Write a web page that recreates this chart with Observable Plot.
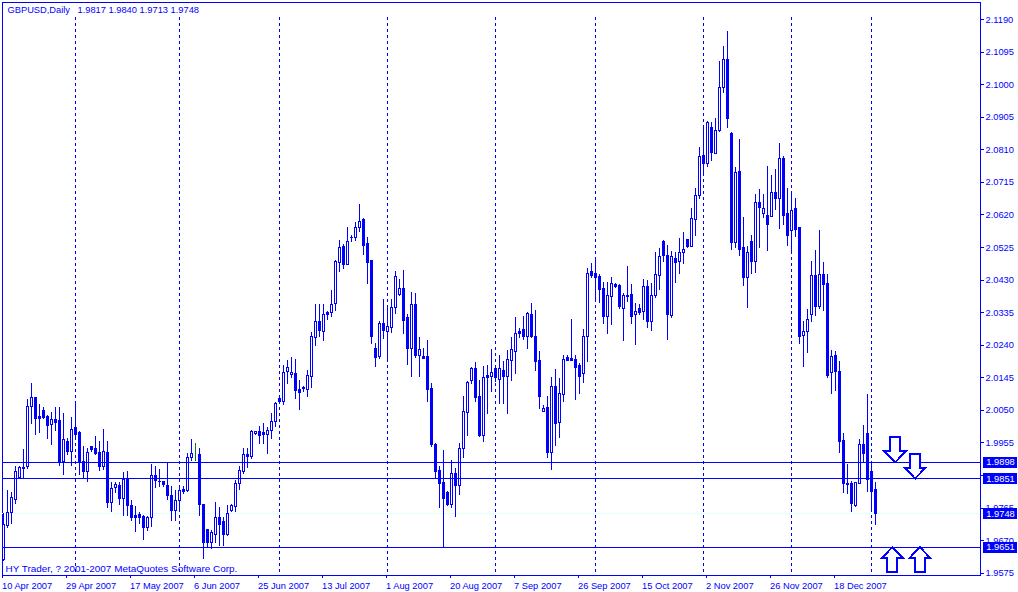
<!DOCTYPE html>
<html><head><meta charset="utf-8">
<style>html,body{margin:0;padding:0;background:#fff}svg{display:block}</style>
<script src="https://cdn.jsdelivr.net/npm/d3@7"></script>
<script src="https://cdn.jsdelivr.net/npm/@observablehq/plot@0.6"></script>
</head><body><script>
const opens=[1.9614,1.9712,1.9750,1.9789,1.9853,1.9882,1.9884,2.0061,2.0085,2.0032,
2.0047,2.0032,2.0006,2.0023,2.0018,1.9898,1.9959,1.9930,2.0000,1.9983,
1.9898,1.9870,1.9942,1.9936,1.9927,1.9886,1.9927,1.9781,1.9823,1.9828,
1.9790,1.9851,1.9772,1.9741,1.9746,1.9740,1.9708,1.9737,1.9860,1.9842,
1.9842,1.9828,1.9799,1.9755,1.9787,1.9819,1.9816,1.9910,1.9921,1.9921,
1.9775,1.9700,1.9662,1.9685,1.9737,1.9723,1.9685,1.9755,1.9767,1.9834,
1.9870,1.9921,1.9915,1.9980,1.9988,1.9983,1.9977,1.9989,2.0016,2.0082,
2.0075,2.0161,2.0153,2.0155,2.0108,2.0114,2.0109,2.0148,2.0262,2.0309,
2.0278,2.0333,2.0333,2.0360,2.0480,2.0528,2.0475,2.0554,2.0552,2.0581,
2.0604,2.0534,2.0487,2.0228,2.0207,2.0303,2.0280,2.0289,2.0348,2.0388,
2.0403,2.0318,2.0228,2.0356,2.0210,2.0207,2.0206,2.0111,1.9950,1.9872,
1.9837,1.9810,1.9773,1.9865,1.9828,1.9936,2.0041,2.0135,2.0172,2.0088,
1.9974,2.0149,2.0147,2.0172,2.0140,2.0166,2.0147,2.0194,2.0220,2.0280,
2.0283,2.0263,2.0327,2.0265,2.0193,2.0044,2.0058,1.9927,2.0117,2.0012,
2.0094,2.0204,2.0201,2.0198,2.0178,2.0155,2.0263,2.0455,2.0449,2.0438,
2.0403,2.0321,2.0380,2.0417,2.0414,2.0345,2.0385,2.0388,2.0327,2.0347,
2.0336,2.0411,2.0309,2.0384,2.0443,2.0540,2.0499,2.0324,2.0493,2.0484,
2.0508,2.0548,2.0528,2.0605,2.0674,2.0793,2.0770,2.0875,2.0799,2.0866,
2.0989,2.1073,2.0855,2.0537,2.0744,2.0525,2.0437,2.0540,2.0484,2.0656,
2.0624,2.0618,2.0615,2.0685,2.0668,2.0782,2.0624,2.0572,2.0636,2.0583,
2.0266,2.0278,2.0327,2.0441,2.0353,2.0446,2.0420,2.0160,2.0210,2.0163,
1.9962,1.9834,1.9834,1.9770,1.9836,1.9948,1.9980,1.9869,1.9817];
const closes=[1.9717,1.9752,1.9793,1.9871,1.9882,1.9878,2.0061,2.0085,2.0026,2.0026,
2.0029,2.0004,2.0023,2.0012,1.9897,1.9965,1.9930,1.9994,1.9977,1.9898,
1.9869,1.9927,1.9935,1.9924,1.9886,1.9930,1.9781,1.9822,1.9831,1.9790,
1.9848,1.9770,1.9737,1.9737,1.9737,1.9708,1.9737,1.9860,1.9843,1.9840,
1.9831,1.9799,1.9755,1.9787,1.9816,1.9813,1.9910,1.9924,1.9921,1.9775,
1.9662,1.9662,1.9691,1.9737,1.9717,1.9685,1.9749,1.9772,1.9834,1.9872,
1.9921,1.9915,1.9988,1.9987,1.9974,1.9977,1.9991,2.0015,2.0070,2.0074,
2.0160,2.0174,2.0160,2.0106,2.0100,2.0112,2.0149,2.0265,2.0309,2.0281,
2.0329,2.0327,2.0358,2.0484,2.0525,2.0473,2.0542,2.0552,2.0583,2.0600,
2.0529,2.0481,2.0263,2.0204,2.0303,2.0281,2.0292,2.0350,2.0440,2.0405,
2.0312,2.0228,2.0356,2.0210,2.0225,2.0201,2.0109,1.9948,1.9869,1.9834,
1.9790,1.9773,1.9865,1.9828,1.9938,2.0044,2.0130,2.0172,2.0086,1.9974,
2.0143,2.0143,2.0160,2.0143,2.0172,2.0146,2.0198,2.0225,2.0273,2.0274,
2.0265,2.0330,2.0263,2.0190,2.0090,2.0055,1.9927,2.0117,2.0009,2.0099,
2.0198,2.0195,2.0195,2.0175,2.0146,2.0265,2.0449,2.0443,2.0435,2.0400,
2.0321,2.0385,2.0420,2.0411,2.0353,2.0385,2.0382,2.0321,2.0338,2.0335,
2.0411,2.0309,2.0385,2.0446,2.0496,2.0499,2.0327,2.0496,2.0481,2.0510,
2.0519,2.0528,2.0607,2.0674,2.0790,2.0770,2.0887,2.0802,2.0866,2.0989,
2.1073,2.0901,2.0537,2.0741,2.0519,2.0437,2.0510,2.0484,2.0656,2.0639,
2.0636,2.0592,2.0685,2.0668,2.0782,2.0618,2.0560,2.0633,2.0577,2.0263,
2.0278,2.0315,2.0441,2.0351,2.0446,2.0417,2.0149,2.0207,2.0163,1.9959,
1.9834,1.9831,1.9778,1.9839,1.9948,1.9924,1.9847,1.9813,1.9748];
const highs=[1.9748,1.9816,1.9809,1.9886,1.9886,1.9936,2.0083,2.0128,2.0085,2.0067,
2.0059,2.0035,2.0044,2.0058,2.0058,2.0041,1.9968,2.0029,2.0070,1.9988,
1.9945,1.9938,1.9942,1.9974,1.9959,1.9994,1.9959,1.9840,1.9840,1.9840,
1.9869,1.9872,1.9787,1.9770,1.9752,1.9743,1.9740,1.9892,1.9886,1.9877,
1.9842,1.9895,1.9828,1.9816,1.9831,1.9828,1.9924,1.9965,1.9953,1.9939,
1.9775,1.9700,1.9700,1.9781,1.9767,1.9737,1.9772,1.9775,1.9845,1.9886,
1.9939,1.9939,1.9991,1.9988,2.0003,2.0012,2.0000,2.0041,2.0073,2.0084,
2.0181,2.0195,2.0204,2.0198,2.0137,2.0120,2.0166,2.0277,2.0359,2.0359,
2.0359,2.0338,2.0400,2.0487,2.0546,2.0534,2.0583,2.0560,2.0598,2.0651,
2.0610,2.0554,2.0487,2.0245,2.0309,2.0373,2.0347,2.0373,2.0455,2.0432,
2.0458,2.0330,2.0394,2.0391,2.0263,2.0230,2.0254,2.0128,1.9953,1.9886,
1.9933,1.9813,1.9904,1.9879,1.9953,2.0090,2.0134,2.0175,2.0190,2.0137,
2.0178,2.0181,2.0228,2.0175,2.0210,2.0193,2.0225,2.0263,2.0321,2.0289,
2.0324,2.0335,2.0362,2.0341,2.0222,2.0064,2.0090,2.0146,2.0169,2.0143,
2.0210,2.0210,2.0315,2.0210,2.0187,2.0286,2.0464,2.0478,2.0490,2.0446,
2.0423,2.0423,2.0438,2.0420,2.0417,2.0391,2.0470,2.0417,2.0362,2.0359,
2.0432,2.0429,2.0420,2.0510,2.0522,2.0545,2.0531,2.0513,2.0510,2.0551,
2.0569,2.0548,2.0639,2.0697,2.0817,2.0872,2.0893,2.0890,2.0901,2.1068,
2.1111,2.1155,2.0860,2.0758,2.0840,2.0612,2.0528,2.0560,2.0680,2.0694,
2.0680,2.0761,2.0735,2.0753,2.0828,2.0790,2.0697,2.0680,2.0668,2.0583,
2.0309,2.0344,2.0484,2.0516,2.0575,2.0481,2.0446,2.0225,2.0222,2.0193,
1.9983,1.9892,1.9842,1.9839,1.9965,2.0006,2.0096,1.9892,1.9840];
const lows=[1.9609,1.9706,1.9717,1.9775,1.9847,1.9847,1.9877,2.0009,1.9977,1.9983,
2.0022,1.9965,1.9948,1.9988,1.9886,1.9860,1.9918,1.9886,1.9968,1.9860,
1.9851,1.9840,1.9927,1.9918,1.9872,1.9875,1.9764,1.9752,1.9807,1.9772,
1.9740,1.9740,1.9726,1.9694,1.9717,1.9670,1.9697,1.9708,1.9822,1.9825,
1.9825,1.9787,1.9726,1.9726,1.9758,1.9805,1.9810,1.9901,1.9901,1.9740,
1.9615,1.9647,1.9644,1.9662,1.9653,1.9653,1.9682,1.9752,1.9752,1.9816,
1.9863,1.9880,1.9907,1.9977,1.9950,1.9950,1.9921,1.9965,2.0001,2.0071,
2.0064,2.0125,2.0144,2.0082,2.0050,2.0103,2.0088,2.0114,2.0236,2.0263,
2.0251,2.0312,2.0321,2.0338,2.0452,2.0461,2.0473,2.0540,2.0543,2.0569,
2.0502,2.0417,2.0242,2.0175,2.0198,2.0257,2.0198,2.0274,2.0330,2.0382,
2.0271,2.0181,2.0146,2.0201,2.0146,2.0201,2.0074,1.9942,1.9850,1.9764,
1.9651,1.9770,1.9764,1.9738,1.9802,1.9910,1.9974,2.0125,2.0074,1.9971,
1.9956,2.0038,2.0102,2.0131,2.0067,2.0067,2.0038,2.0134,2.0155,2.0260,
2.0254,2.0228,2.0260,2.0163,2.0053,2.0044,1.9910,1.9875,1.9945,1.9968,
2.0073,2.0193,2.0195,2.0079,2.0096,2.0128,2.0190,2.0435,2.0370,2.0362,
2.0300,2.0271,2.0298,2.0405,2.0344,2.0251,2.0365,2.0300,2.0239,2.0327,
2.0312,2.0289,2.0280,2.0376,2.0400,2.0481,2.0254,2.0318,2.0420,2.0446,
2.0475,2.0522,2.0525,2.0557,2.0665,2.0741,2.0758,2.0776,2.0799,2.0860,
2.0974,2.0872,2.0516,2.0522,2.0499,2.0411,2.0347,2.0446,2.0449,2.0522,
2.0610,2.0513,2.0615,2.0633,2.0577,2.0589,2.0528,2.0513,2.0554,2.0242,
2.0175,2.0216,2.0306,2.0324,2.0344,2.0338,2.0143,2.0096,2.0105,1.9924,
1.9808,1.9805,1.9752,1.9767,1.9834,1.9898,1.9810,1.9761,1.9713];

const dateLabels=["10 Apr 2007","29 Apr 2007","17 May 2007","6 Jun 2007","25 Jun 2007","13 Jul 2007","1 Aug 2007","20 Aug 2007","7 Sep 2007","26 Sep 2007","15 Oct 2007","2 Nov 2007","26 Nov 2007","18 Dec 2007"];
const dateBars=[0,16,32,48,64,80,96,112,128,144,160,176,192,208];
const separatorBars=[18,44,69,96,123,148,175,197,217];
const priceTicks=[2.119,2.1095,2.1,2.0905,2.081,2.0715,2.062,2.0525,2.043,2.0335,2.024,2.0145,2.005,1.9955,1.986,1.9765,1.967,1.9575];
const hiddenTickLabel=1.986;
const levelLines=[1.9898,1.9851,1.9651];
const bidLine=[1.9748];
const boxedPrices=[1.9898,1.9851,1.9748,1.9651];
const downArrows=[{bar:222.9,price:1.9898},{bar:227.9,price:1.9851}];
const upArrows=[{bar:222.2,price:1.9651},{bar:229.1,price:1.9651}];
const headerName="GBPUSD,Daily";
const headerValues="1.9817 1.9840 1.9713 1.9748";
const copyright="HY Trader, ? 2001-2007 MetaQuotes Software Corp.";

const BLUE="#0000ff", GREEN="#008000", BID="#e0ffff", FONT="'Liberation Sans',Arial,sans-serif", FS=9.3;
const candles=opens.map((o,i)=>({i,o,c:closes[i],h:highs[i],l:lows[i]}));
const dojis=candles.filter(d=>d.o===d.c), regular=candles.filter(d=>d.o!==d.c);
const bull=regular.filter(d=>d.c>d.o), bear=regular.filter(d=>d.c<d.o);
const pts=(p)=>({draw(ctx){p.forEach((q,k)=>k?ctx.lineTo(q[0],q[1]):ctx.moveTo(q[0],q[1]));ctx.closePath();}});
const downShape=pts([[0,0],[-10.5,-11],[-5,-11],[-5,-25],[5,-25],[5,-11],[10.5,-11]]);
const upShape=pts([[0,0],[-10.5,11],[-5,11],[-5,25],[5,25],[5,11],[10.5,11]]);
const bodyX={x1:d=>d.i-0.125,x2:d=>d.i+0.375,y1:"o",y2:"c",stroke:BLUE};

const chart=Plot.plot({
  width:1018,height:592,marginLeft:2,marginRight:38,marginTop:2,marginBottom:17,
  style:{background:"#fff",fontFamily:FONT,fontSize:FS+"px",shapeRendering:"crispEdges",color:BLUE},
  x:{domain:[-0.25,244.25],axis:null},
  y:{domain:[1.95683,2.12398],axis:null},
  marks:[
    Plot.frame({stroke:BLUE}),
    Plot.ruleX(separatorBars,{x:d=>d,y1:2.1196,y2:1.95683,stroke:BLUE,strokeDasharray:"3,3"}),
    Plot.ruleY(bidLine,{y:d=>d,stroke:BID}),
    Plot.ruleX(regular,{x:"i",y1:"l",y2:"h",stroke:BLUE}),
    Plot.ruleX(dojis,{x:"i",y1:"l",y2:"h",stroke:GREEN}),
    Plot.rect(bull,{...bodyX,fill:"#fff"}),
    Plot.rect(bear,{...bodyX,fill:BLUE}),
    Plot.rect(dojis,{...bodyX,stroke:GREEN}),
    Plot.ruleY(levelLines,{y:d=>d,stroke:BLUE}),
    Plot.dot(downArrows,{x:"bar",y:"price",symbol:downShape,r:1,fill:"#fff",stroke:BLUE,strokeWidth:2}),
    Plot.dot(upArrows,{x:"bar",y:"price",symbol:upShape,r:1,fill:"#fff",stroke:BLUE,strokeWidth:2}),
    Plot.axisY(priceTicks,{anchor:"right",label:null,tickSize:3,tickPadding:2,tickFormat:d=>d===hiddenTickLabel?"":d.toFixed(4),stroke:BLUE,fill:BLUE,fontSize:FS}),
    Plot.axisX(dateBars,{anchor:"bottom",label:null,tickSize:3,tickPadding:4,dx:-1.5,tickFormat:d=>dateLabels[dateBars.indexOf(d)],textAnchor:"start",stroke:BLUE,fill:BLUE,fontSize:FS}),
    Plot.ruleY(boxedPrices,{y:d=>d,x1:244.9,x2:253.4,stroke:BLUE,strokeWidth:11}),
    Plot.text(boxedPrices,{y:d=>d,x:245.7,text:d=>d.toFixed(4),textAnchor:"start",fill:"#fff",fontSize:FS}),
    Plot.text([headerName],{frameAnchor:"top-left",dx:5,dy:4,fill:BLUE,fontSize:FS}),
    Plot.text([headerValues],{frameAnchor:"top-left",dx:75,dy:4,fill:BLUE,fontSize:FS}),
    Plot.text([copyright],{frameAnchor:"bottom-left",dx:3,dy:-4,fill:BLUE,fontSize:9.95})
  ]
});
document.body.appendChild(chart);
</script></body></html>
